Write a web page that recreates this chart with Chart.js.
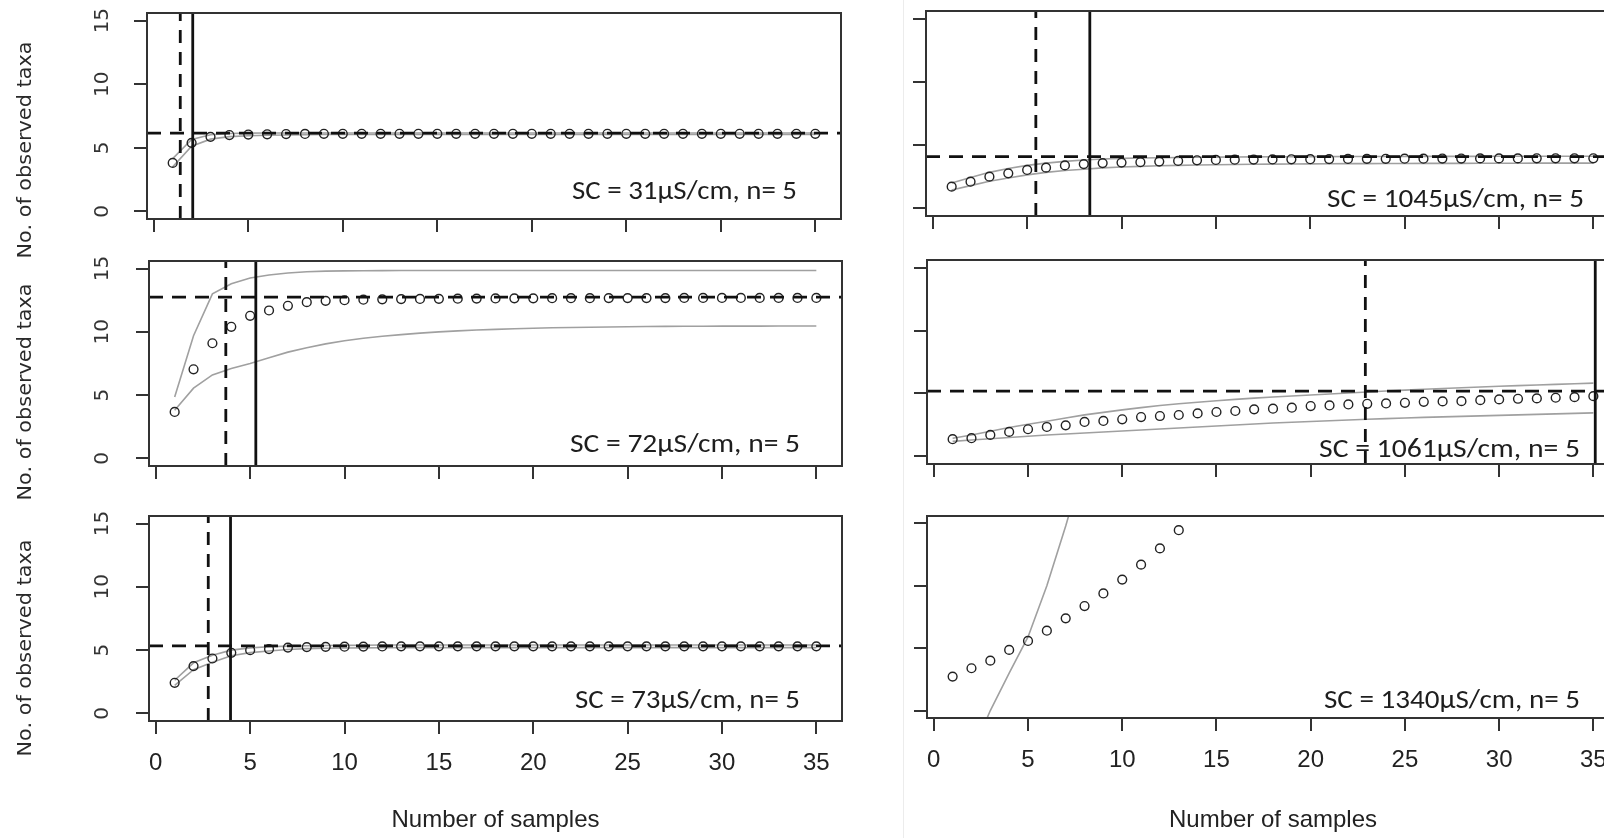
<!DOCTYPE html>
<html><head><meta charset="utf-8">
<script src="https://cdn.jsdelivr.net/npm/chart.js@4.4.1/dist/chart.umd.min.js"></script>
<style>
html,body{margin:0;padding:0;background:#fff;overflow:hidden;width:1604px;height:838px;}
#wrap{position:relative;width:1604px;height:838px;overflow:hidden;background:#fff;}
#wrap canvas{position:absolute;left:0;top:0;}
#sep{position:absolute;left:903px;top:0;width:1px;height:838px;background:#ececec;}
</style></head>
<body><div id="wrap"><div id="sep"></div></div>
<script>
// ---------------- data ----------------
const samples = [1,2,3,4,5,6,7,8,9,10,11,12,13,14,15,16,17,18,19,20,21,22,23,24,25,26,27,28,29,30,31,32,33,34,35];
const xTicks = [0,5,10,15,20,25,30,35];
const xTickLabels = ['0','5','10','15','20','25','30','35'];
const yTicks = [0,5,10,15];
const yTickLabels = ['0','5','10','15'];
const panelLabels = ['SC = 31\u00b5S/cm, n= 5','SC = 72\u00b5S/cm, n= 5','SC = 73\u00b5S/cm, n= 5',
                     'SC = 1045\u00b5S/cm, n= 5','SC = 1061\u00b5S/cm, n= 5','SC = 1340\u00b5S/cm, n= 5'];
const yTitle = 'No. of observed taxa';
const xTitle = 'Number of samples';

// SC = 31
const mean31  = [3.81,5.39,5.86,6.0,6.04,6.06,6.08,6.09,6.1,6.1,6.1,6.1,6.1,6.1,6.1,6.1,6.1,6.1,6.1,6.1,6.1,6.1,6.1,6.1,6.1,6.1,6.1,6.1,6.1,6.1,6.1,6.1,6.1,6.1,6.1];
const upper31 = [4.15,5.65,6.02,6.12,6.15,6.16,6.16,6.16,6.16,6.16,6.16,6.16,6.16,6.16,6.16,6.16,6.16,6.16,6.16,6.16,6.16,6.16,6.16,6.16,6.16,6.16,6.16,6.16,6.16,6.16,6.16,6.16,6.16,6.16,6.16];
const lower31 = [3.5,5.12,5.68,5.88,5.95,5.99,6.01,6.03,6.04,6.05,6.05,6.05,6.05,6.05,6.05,6.05,6.05,6.05,6.05,6.05,6.05,6.05,6.05,6.05,6.05,6.05,6.05,6.05,6.05,6.05,6.05,6.05,6.05,6.05,6.05];
// SC = 72
const mean72  = [3.67,7.04,9.1,10.4,11.27,11.69,12.06,12.35,12.45,12.5,12.54,12.57,12.59,12.6,12.61,12.62,12.63,12.64,12.65,12.65,12.66,12.66,12.66,12.67,12.67,12.67,12.67,12.68,12.68,12.68,12.68,12.68,12.68,12.68,12.68];
const upper72 = [4.85,9.7,13.0,13.8,14.25,14.5,14.65,14.75,14.8,14.82,14.83,14.84,14.85,14.85,14.85,14.85,14.85,14.85,14.85,14.85,14.85,14.85,14.85,14.85,14.85,14.85,14.85,14.85,14.85,14.85,14.85,14.85,14.85,14.85,14.85];
const lower72 = [3.8,5.55,6.6,7.1,7.5,7.95,8.4,8.75,9.05,9.3,9.5,9.65,9.78,9.9,10.0,10.08,10.15,10.2,10.25,10.29,10.32,10.35,10.37,10.39,10.41,10.42,10.43,10.44,10.44,10.45,10.45,10.45,10.46,10.46,10.46];
// SC = 73
const mean73  = [2.42,3.74,4.34,4.79,5.0,5.08,5.2,5.24,5.26,5.27,5.28,5.29,5.3,5.3,5.3,5.3,5.3,5.3,5.3,5.3,5.3,5.3,5.3,5.3,5.3,5.3,5.3,5.3,5.3,5.3,5.3,5.3,5.3,5.3,5.3];
const upper73 = [2.62,4.0,4.6,5.0,5.18,5.27,5.32,5.35,5.37,5.38,5.39,5.4,5.4,5.4,5.4,5.4,5.4,5.4,5.4,5.4,5.4,5.4,5.4,5.4,5.4,5.4,5.4,5.4,5.4,5.4,5.4,5.4,5.4,5.4,5.4];
const lower73 = [2.22,3.45,4.05,4.55,4.8,4.93,5.05,5.12,5.15,5.17,5.18,5.19,5.2,5.2,5.2,5.2,5.2,5.2,5.2,5.2,5.2,5.2,5.2,5.2,5.2,5.2,5.2,5.2,5.2,5.2,5.2,5.2,5.2,5.2,5.2];
// SC = 1045
const mean1045  = [1.72,2.11,2.51,2.77,3.04,3.22,3.4,3.5,3.58,3.62,3.65,3.7,3.75,3.8,3.83,3.85,3.86,3.87,3.88,3.89,3.9,3.91,3.92,3.92,3.93,3.93,3.94,3.94,3.95,3.95,3.95,3.96,3.96,3.96,3.96];
const upper1045 = [2.0,2.45,2.85,3.15,3.4,3.58,3.72,3.82,3.9,3.95,3.98,4.0,4.02,4.04,4.05,4.06,4.07,4.08,4.08,4.09,4.09,4.1,4.1,4.1,4.1,4.11,4.11,4.11,4.11,4.12,4.12,4.12,4.12,4.12,4.12];
const lower1045 = [1.45,1.8,2.15,2.4,2.65,2.85,3.0,3.1,3.2,3.27,3.32,3.37,3.4,3.43,3.45,3.47,3.49,3.5,3.51,3.52,3.53,3.54,3.54,3.55,3.55,3.56,3.56,3.56,3.57,3.57,3.57,3.58,3.58,3.58,3.58];
// SC = 1061
const mean1061  = [1.37,1.45,1.71,1.95,2.16,2.34,2.47,2.74,2.82,2.95,3.13,3.21,3.29,3.42,3.53,3.61,3.74,3.79,3.87,4.0,4.05,4.13,4.18,4.21,4.26,4.34,4.37,4.39,4.47,4.53,4.58,4.61,4.66,4.71,4.79];
const upper1061 = [1.45,1.7,2.0,2.3,2.55,2.8,3.05,3.3,3.5,3.7,3.88,4.04,4.18,4.3,4.42,4.53,4.63,4.72,4.8,4.88,4.96,5.04,5.12,5.2,5.27,5.34,5.4,5.46,5.52,5.57,5.62,5.67,5.72,5.77,5.82];
const lower1061 = [1.2,1.3,1.4,1.5,1.6,1.7,1.78,1.86,1.94,2.02,2.1,2.18,2.26,2.34,2.42,2.5,2.58,2.65,2.72,2.78,2.84,2.9,2.95,3.0,3.05,3.1,3.14,3.18,3.22,3.26,3.3,3.34,3.38,3.42,3.46];
// SC = 1340
const samples1340 = [1,2,3,4,5,6,7,8,9,10,11,12,13];
const mean1340  = [2.72,3.39,4.0,4.86,5.58,6.4,7.39,8.38,9.39,10.5,11.7,13.0,14.46];
const samplesUpper1340 = [1,2,3,4,5,6,7,8];
const upper1340 = [-7.0,-3.5,0.0,3.0,5.9,10.0,14.8,20.0];

// reference lines (dashed horizontal, dashed vertical, solid vertical)
const hDash  = [6.15, 12.75, 5.34, 4.09, 5.18, null];
const vDash  = [1.40, 3.71, 2.78, 5.46, 22.9, null];
const vSolid = [2.06, 5.30, 3.96, 8.32, 35.1, null];

// ---------------- layout / style ----------------
const X_MIN = -0.36, X_MAX = 36.36, Y_MIN = -0.6, Y_MAX = 15.6;
const CW = 1640, CH = 838;
const boxes = [
  {l:147,t:13,r:841,b:219,col:0,row:0},
  {l:149,t:261,r:842,b:466,col:0,row:1},
  {l:149,t:516,r:842,b:721,col:0,row:2},
  {l:926,t:11,r:1619,b:216,col:1,row:0},
  {l:927,t:260,r:1619,b:464,col:1,row:1},
  {l:927,t:516,r:1619,b:718,col:1,row:2}
];
const labelSpots = [
  {right:797,base:199,w:225},{right:800,base:452,w:230},{right:800,base:708,w:225},
  {right:1584,base:207,w:257},{right:1580,base:457,w:261},{right:1580,base:708,w:256}
];
const yTitleCenters = [150, 392, 648];

const series = [
  {xs:samples, mean:mean31, up:upper31, lo:lower31},
  {xs:samples, mean:mean72, up:upper72, lo:lower72},
  {xs:samples, mean:mean73, up:upper73, lo:lower73},
  {xs:samples, mean:mean1045, up:upper1045, lo:lower1045},
  {xs:samples, mean:mean1061, up:upper1061, lo:lower1061},
  {xs:samples1340, mean:mean1340, upXs:samplesUpper1340, up:upper1340, lo:null}
];

const pts = (xs, ys) => ys.map((y, i) => ({x: xs[i], y: y}));
function lineDS(data, color, width, dash) {
  return {data, showLine:true, fill:false, tension:0, borderColor:color, borderWidth:width,
          borderDash:dash || [], pointRadius:0, pointHoverRadius:0, clip:0};
}
function fitText(ctx, text, x, y, targetW, align, rot) {
  ctx.save();
  ctx.translate(x, y);
  if (rot) ctx.rotate(rot);
  const w = ctx.measureText(text).width;
  ctx.scale(targetW / w, 1);
  ctx.textAlign = align;
  ctx.fillText(text, 0, 0);
  ctx.restore();
}

const wrap = document.getElementById('wrap');

function makePanel(i) {
  const B = boxes[i], s = series[i];
  const bottomRow = B.row === 2, leftCol = B.col === 0;
  const M = 20;
  const Bx = bottomRow ? CH - B.b : 40;
  const cv = document.createElement('canvas');
  cv.width = CW; cv.height = CH;
  cv.style.width = CW + 'px'; cv.style.height = CH + 'px';
  wrap.appendChild(cv);

  const ds = [];
  if (hDash[i] != null) ds.push(lineDS([{x:X_MIN,y:hDash[i]},{x:X_MAX,y:hDash[i]}], '#111', 2.8, [14,9]));
  if (vDash[i] != null) ds.push(lineDS([{x:vDash[i],y:Y_MIN},{x:vDash[i],y:Y_MAX}], '#111', 2.8, [13,9]));
  if (vSolid[i] != null) ds.push(lineDS([{x:vSolid[i],y:Y_MIN},{x:vSolid[i],y:Y_MAX}], '#111', 2.8));
  ds.push({data: pts(s.xs, s.mean), showLine:false, pointStyle:'circle', pointRadius:4.4, pointHoverRadius:4.4,
           pointBorderWidth:1.4, pointBorderColor:'#222', pointBackgroundColor:'rgba(0,0,0,0)', clip:0});
  ds.push(lineDS(pts(s.upXs || s.xs, s.up), '#a0a0a0', 1.6));
  if (s.lo) ds.push(lineDS(pts(s.xs, s.lo), '#a0a0a0', 1.6));

  const deco = {
    id: 'deco' + i,
    afterDraw(chart) {
      const ctx = chart.ctx, a = chart.chartArea;
      ctx.save();
      ctx.strokeStyle = '#333'; ctx.lineWidth = 2;
      ctx.strokeRect(a.left, a.top, a.right - a.left, a.bottom - a.top);
      // panel label
      const L = labelSpots[i];
      ctx.fillStyle = '#1e1e1e';
      ctx.font = '26px Carlito, Lato, sans-serif';
      ctx.textBaseline = 'alphabetic';
      fitText(ctx, panelLabels[i], L.right, L.base, L.w, 'right', 0);
      if (leftCol) {
        const ys = chart.scales.y;
        ctx.fillStyle = '#333';
        ctx.font = '20px "DejaVu Sans", sans-serif';
        ctx.textBaseline = 'middle';
        yTicks.forEach((v, k) => {
          const py = ys.getPixelForValue(v);
          ctx.save(); ctx.translate(103, py); ctx.rotate(-Math.PI/2);
          ctx.textAlign = 'center'; ctx.fillText(yTickLabels[k], 0, 0); ctx.restore();
        });
        ctx.font = '20px "DejaVu Sans", sans-serif';
        ctx.fillStyle = '#2a2a2a';
        fitText(ctx, yTitle, 26, yTitleCenters[B.row], 217, 'center', -Math.PI/2);
      }
      ctx.restore();
    }
  };

  new Chart(cv, {
    type: 'scatter',
    data: {datasets: ds},
    options: {
      responsive:false, animation:false, devicePixelRatio:1, events:[],
      layout: {padding: {left: B.l - M, top: B.t, right: CW - B.r, bottom: CH - B.b - Bx}},
      plugins: {legend:{display:false}, tooltip:{enabled:false}},
      scales: {
        x: {
          type:'linear', position:'bottom', min:X_MIN, max:X_MAX,
          afterBuildTicks: sc => { sc.ticks = xTicks.map(v => ({value:v})); },
          afterFit: sc => { sc.height = Bx; sc.paddingLeft = 0; sc.paddingRight = 0; },
          grid: {display:true, drawOnChartArea:false, drawTicks:true, tickLength:13, color:'#333', lineWidth:2},
          border: {display:false},
          ticks: {display:bottomRow, padding:15, color:'#222',
                  font:{family:'"Liberation Sans", Arial, sans-serif', size:24},
                  callback: (v, k) => xTickLabels[k]},
          title: {display:bottomRow, text:xTitle, color:'#222',
                  font:{family:'"Liberation Sans", Arial, sans-serif', size:24},
                  padding:{top:0, bottom:3}}
        },
        y: {
          type:'linear', position:'left', min:Y_MIN, max:Y_MAX,
          afterBuildTicks: sc => { sc.ticks = yTicks.map(v => ({value:v})); },
          afterFit: sc => { sc.width = M; sc.paddingTop = 0; sc.paddingBottom = 0; },
          grid: {display:true, drawOnChartArea:false, drawTicks:true, tickLength:13, color:'#333', lineWidth:2},
          border: {display:false},
          ticks: {display:false}
        }
      }
    },
    plugins: [deco]
  });
}

for (let i = 0; i < 6; i++) makePanel(i);
</script>
</body></html>
